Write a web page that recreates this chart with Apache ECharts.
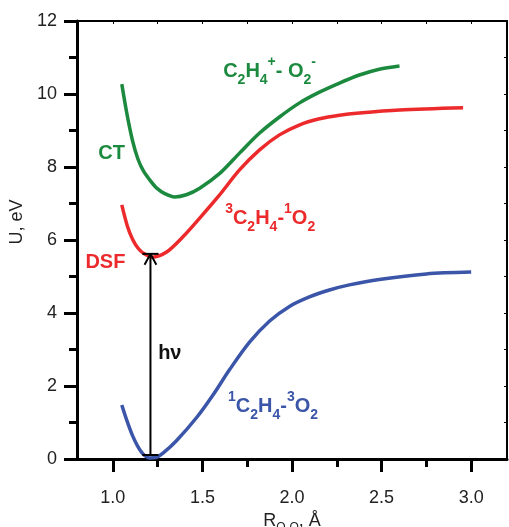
<!DOCTYPE html>
<html>
<head>
<meta charset="utf-8">
<script src="https://cdn.jsdelivr.net/npm/echarts@6/dist/echarts.min.js"></script>
<style>
  html, body { margin: 0; padding: 0; background: #fff; }
  #main { width: 509px; height: 527px; }
</style>
</head>
<body>
<div id="main"></div>
<script>
// potential curves, [R(O-O) in Å, U in eV]
var ctCurve = [[1.05,10.27],[1.08,9.42],[1.11,8.72],[1.14,8.22],[1.17,7.9],[1.21,7.62],[1.245,7.42],
  [1.29,7.27],[1.345,7.18],[1.41,7.24],[1.485,7.42],[1.6,7.84],[1.707,8.38],[1.819,8.93],
  [1.93,9.37],[2.04,9.75],[2.153,10.05],[2.265,10.3],[2.376,10.52],[2.487,10.68],[2.6,10.77]];
var dsfCurve = [[1.05,6.96],[1.08,6.4],[1.11,6.02],[1.14,5.78],[1.17,5.64],[1.22,5.53],[1.3,5.67],
  [1.39,6.08],[1.485,6.6],[1.59,7.2],[1.707,7.92],[1.819,8.47],[1.93,8.88],[2.04,9.15],
  [2.153,9.32],[2.265,9.42],[2.376,9.48],[2.6,9.56],[2.955,9.62]];
var groundCurve = [[1.05,1.48],[1.08,1.03],[1.11,0.64],[1.14,0.34],[1.17,0.13],[1.205,0.03],
  [1.24,0.04],[1.28,0.16],[1.355,0.5],[1.47,1.15],[1.56,1.76],[1.652,2.45],[1.763,3.2],
  [1.875,3.78],[1.986,4.18],[2.097,4.44],[2.209,4.63],[2.32,4.77],[2.487,4.92],[2.75,5.07],[3.0,5.12]];

// excitation arrow: R position, bottom and top energies
var hvR = 1.21;
var hvFrom = 0.11;
var hvTo = 5.62;

var xMajor = [1.0, 1.5, 2.0, 2.5, 3.0];
var xMinor = [1.25, 1.75, 2.25, 2.75];
var xTop = [1.0, 1.25, 1.5, 1.75, 2.0, 2.25, 2.5, 2.75, 3.0];

var green = '#1c8a3e';
var red = '#ec2a2c';
var blue = '#3b55a8';
var font = 'Liberation Sans, Arial, Helvetica, sans-serif';

function black(w) { return { color: '#000', width: w }; }

function chem(color, big, small) {
  var base = { color: color, fontFamily: font, fontWeight: 'bold' };
  return {
    m: Object.assign({ fontSize: big, lineHeight: 32 }, base),
    b: Object.assign({ fontSize: small, lineHeight: 16, verticalAlign: 'bottom' }, base),
    p: Object.assign({ fontSize: small, lineHeight: 12, verticalAlign: 'top' }, base)
  };
}

// annotations, anchored at their left edge / vertical middle in data units
var notes = [
  { text: '{m|CT}', at: [0.916, 8.38], color: green, big: 20, small: 13 },
  { text: '{m|DSF}', at: [0.844, 5.38], color: red, big: 20, small: 13 },
  { text: '{m|hν}', at: [1.25, 2.9], color: '#111', big: 20, small: 13 },
  { text: '{m|C}{b|2}{m|H}{b|4}{p|+}{m|- O}{b|2}{p|-}', at: [1.613, 10.63], color: green, big: 20, small: 14 },
  { text: '{p|3}{m|C}{b|2}{m|H}{b|4}{m|-}{p|1}{m|O}{b|2}', at: [1.624, 6.6], color: red, big: 20, small: 14 },
  { text: '{p|1}{m|C}{b|2}{m|H}{b|4}{m|-}{p|3}{m|O}{b|2}', at: [1.64, 1.44], color: blue, big: 20, small: 14 }
];

var arrowSegs = [
  [[hvR, hvFrom], [hvR, hvTo]],
  [[hvR - 0.045, hvFrom], [hvR + 0.045, hvFrom]],
  [[hvR - 0.045, hvTo], [hvR + 0.045, hvTo]],
  [[hvR - 0.033, hvTo - 0.3], [hvR, hvTo], [hvR + 0.033, hvTo - 0.3]]
];

var chart = echarts.init(document.getElementById('main'));

var series = [
  { type: 'line', data: ctCurve, smooth: 0.3, symbol: 'none', lineStyle: { color: green, width: 3.5 } },
  { type: 'line', data: dsfCurve, smooth: 0.3, symbol: 'none', lineStyle: { color: red, width: 3.5 } },
  { type: 'line', data: groundCurve, smooth: 0.3, symbol: 'none', lineStyle: { color: blue, width: 3.5 } }
];
arrowSegs.forEach(function (seg) {
  series.push({ type: 'line', data: seg, symbol: 'none', silent: true, lineStyle: { color: '#000', width: 2 } });
});
series.push({
  type: 'scatter', symbolSize: 1, itemStyle: { color: 'rgba(0,0,0,0)', opacity: 1 }, silent: true, z: 5,
  labelLayout: { hideOverlap: false },
  data: notes.map(function (n) {
    return {
      value: n.at,
      label: { show: true, position: 'right', distance: 0, formatter: n.text, rich: chem(n.color, n.big, n.small) }
    };
  })
});

var option = {
  animation: false,
  grid: { left: 77, right: 2, top: 21, bottom: 68, outerBoundsMode: 'none' },
  xAxis: [
    {
      type: 'value', position: 'bottom', min: 0.8, max: 3.2,
      splitLine: { show: false },
      axisLine: { onZero: false, lineStyle: black(3) },
      axisTick: { show: false },
      axisLabel: {
        customValues: xMajor, margin: 30, fontSize: 18, color: '#222', fontFamily: font,
        formatter: function (v) { return v.toFixed(1); }
      },
      name: '{r|R}{s|O-O}{r|, Å}',
      nameLocation: 'middle', nameGap: 45,
      nameTextStyle: {
        rich: {
          r: { fontSize: 18, color: '#222', fontFamily: font, lineHeight: 26 },
          s: { fontSize: 12, color: '#222', fontFamily: font, lineHeight: 12, verticalAlign: 'bottom' }
        }
      }
    },
    {
      type: 'value', position: 'bottom', min: 0.8, max: 3.2,
      splitLine: { show: false }, axisLine: { show: false }, axisLabel: { show: false },
      axisTick: { customValues: xMajor, length: 13, lineStyle: black(3) }
    },
    {
      type: 'value', position: 'bottom', min: 0.8, max: 3.2,
      splitLine: { show: false }, axisLine: { show: false }, axisLabel: { show: false },
      axisTick: { customValues: xMinor, length: 8, lineStyle: black(3) }
    },
    {
      type: 'value', position: 'top', min: 0.8, max: 3.2,
      splitLine: { show: false }, axisLabel: { show: false },
      axisLine: { onZero: false, lineStyle: black(2) },
      axisTick: { customValues: xTop, inside: true, length: 3, lineStyle: black(1) }
    }
  ],
  yAxis: [
    {
      type: 'value', position: 'left', min: 0, max: 12, interval: 2,
      splitLine: { show: false },
      axisLine: { show: true, onZero: false, lineStyle: black(3) },
      axisTick: { show: true, length: 13, lineStyle: black(3) },
      minorTick: { show: true, splitNumber: 2, length: 8, lineStyle: black(3) },
      axisLabel: { margin: 20, fontSize: 18, color: '#222', fontFamily: font },
      name: 'U, eV', nameLocation: 'middle', nameGap: 37,
      nameTextStyle: { fontSize: 18, color: '#222', fontFamily: font, padding: [0, 0, 0, 36] }
    },
    {
      type: 'value', position: 'right', min: 0, max: 12, interval: 1,
      splitLine: { show: false }, axisLabel: { show: false },
      axisLine: { show: true, onZero: false, lineStyle: black(2) },
      axisTick: { show: true, inside: true, length: 3, lineStyle: black(1) }
    }
  ],
  series: series
};
chart.setOption(option);
</script>
</body>
</html>
